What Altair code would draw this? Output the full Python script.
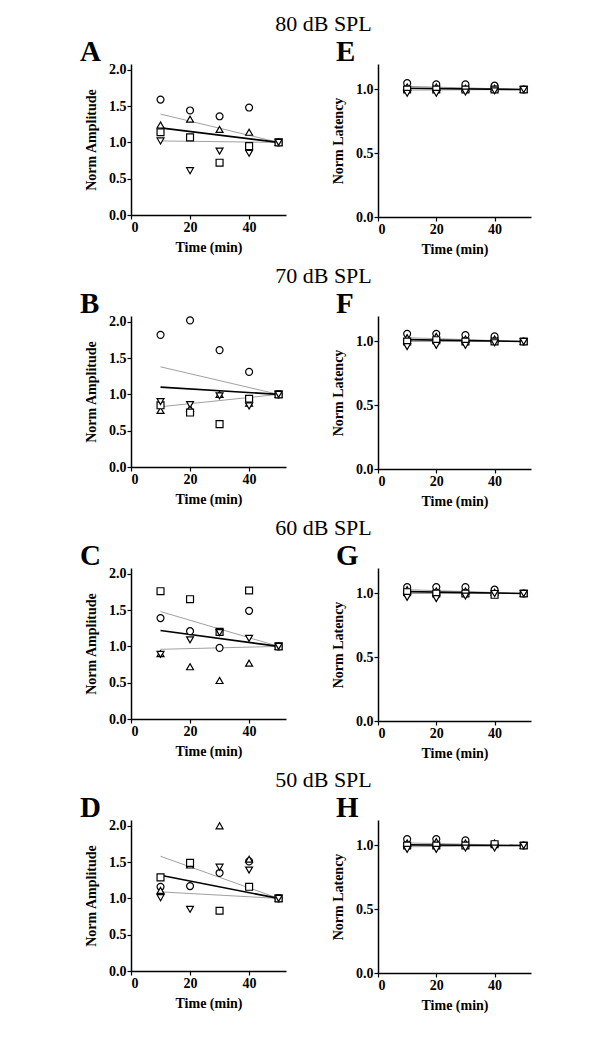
import altair as alt
import pandas as pd

TIMES = [10, 20, 30, 40, 50]
SHAPES = ["circle", "triangle-up", "square", "triangle-down"]
FIT_T = [10, 50]

ROW_TITLES = ["80 dB SPL", "70 dB SPL", "60 dB SPL", "50 dB SPL"]
AMP_LETTERS = ["A", "B", "C", "D"]
LAT_LETTERS = ["E", "F", "G", "H"]

# Normalized amplitude (left column), one list per symbol
AMP_80 = {"circle": [1.59, 1.44, 1.36, 1.48, 1.0],
          "triangle-up": [1.24, 1.32, 1.18, 1.14, 1.0],
          "square": [1.14, 1.07, 0.72, 0.95, 1.0],
          "triangle-down": [1.02, 0.61, 0.88, 0.85, 1.0]}
AMP_70 = {"circle": [1.82, 2.02, 1.61, 1.31, 1.0],
          "triangle-up": [0.78, 0.81, 1.0, 0.88, 1.0],
          "square": [0.85, 0.75, 0.59, 0.94, 1.0],
          "triangle-down": [0.9, 0.86, 0.98, 0.84, 1.0]}
AMP_60 = {"circle": [1.39, 1.21, 0.98, 1.49, 1.0],
          "triangle-up": [0.9, 0.72, 0.53, 0.77, 1.0],
          "square": [1.76, 1.65, 1.2, 1.77, 1.0],
          "triangle-down": [0.89, 1.09, 1.19, 1.11, 1.0]}
AMP_50 = {"circle": [1.16, 1.17, 1.35, 1.51, 1.0],
          "triangle-up": [1.11, 1.46, 2.0, 1.54, 1.0],
          "square": [1.29, 1.49, 0.83, 1.16, 1.0],
          "triangle-down": [1.01, 0.85, 1.43, 1.39, 1.0]}

# Regression line and its bounds (value at 10 and 50 min)
AMP_FIT = [[1.20, 1.0], [1.10, 1.0], [1.22, 1.0], [1.32, 1.0]]
AMP_UPPER = [[1.39, 1.0], [1.38, 1.0], [1.48, 1.0], [1.58, 1.0]]
AMP_LOWER = [[1.02, 1.0], [0.83, 1.0], [0.96, 1.0], [1.09, 1.0]]

# Normalized latency (right column)
LAT_80 = {"circle": [1.05, 1.04, 1.04, 1.03, 1.0],
          "triangle-up": [1.02, 1.02, 1.01, 1.01, 1.0],
          "square": [1.0, 1.0, 1.0, 1.0, 1.0],
          "triangle-down": [0.97, 0.97, 0.98, 0.99, 1.0]}
LAT_70 = {"circle": [1.06, 1.06, 1.05, 1.04, 1.0],
          "triangle-up": [1.03, 1.04, 1.02, 1.02, 1.0],
          "square": [1.0, 1.01, 1.0, 1.0, 1.0],
          "triangle-down": [0.96, 0.97, 0.97, 0.99, 1.0]}
LAT_60 = {"circle": [1.05, 1.05, 1.05, 1.03, 1.0],
          "triangle-up": [1.03, 1.02, 1.02, 1.01, 1.0],
          "square": [1.01, 1.0, 1.0, 0.99, 1.0],
          "triangle-down": [0.97, 0.96, 0.98, 1.0, 1.0]}
LAT_50 = {"circle": [1.05, 1.05, 1.04, 1.01, 1.0],
          "triangle-up": [1.02, 1.03, 1.02, 1.02, 1.0],
          "square": [1.0, 1.0, 1.0, 1.01, 1.0],
          "triangle-down": [0.97, 0.97, 0.98, 0.98, 1.0]}

LAT_FIT = [[1.01, 1.0], [1.015, 1.0], [1.015, 1.0], [1.005, 1.0]]
LAT_UPPER = [[1.025, 1.0], [1.03, 1.0], [1.03, 1.0], [1.02, 1.0]]
LAT_LOWER = [[0.995, 1.0], [1.0, 1.0], [1.0, 1.0], [0.99, 1.0]]

AMP = [AMP_80, AMP_70, AMP_60, AMP_50]
LAT = [LAT_80, LAT_70, LAT_60, LAT_50]

SERIF = "Liberation Serif"


def panel(letter, pts, fit, upper, lower, ymax, yticks, ytitle, w, h, letter_dx):
    rows = []
    for s in SHAPES:
        for t, v in zip(TIMES, pts[s]):
            rows.append({"t": t, "v": v, "shape": s})
    df = pd.DataFrame(rows)
    lrows = []
    for name, vals in (("fit", fit), ("upper", upper), ("lower", lower)):
        for t, v in zip(FIT_T, vals):
            lrows.append({"t": t, "v": v, "line": name})
    ldf = pd.DataFrame(lrows)

    xenc = alt.X("t:Q", scale=alt.Scale(domain=[0, 52.5], nice=False),
                 axis=alt.Axis(values=[0, 20, 40], title="Time (min)"))
    yenc = alt.Y("v:Q", scale=alt.Scale(domain=[0, ymax], nice=False),
                 axis=alt.Axis(values=yticks, format=".1f", title=ytitle))

    gray = alt.Chart(ldf).transform_filter(alt.datum.line != "fit").mark_line(
        color="#a0a0a0", strokeWidth=1).encode(x=xenc, y=yenc, detail="line:N")
    black = alt.Chart(ldf).transform_filter(alt.datum.line == "fit").mark_line(
        color="black", strokeWidth=1.6).encode(x=xenc, y=yenc)
    points = alt.Chart(df).mark_point(filled=True, fill="white", stroke="black",
                                      strokeWidth=1.2, size=48, opacity=1).encode(
        x=xenc, y=yenc,
        shape=alt.Shape("shape:N", scale=alt.Scale(domain=SHAPES, range=SHAPES), legend=None))
    label = alt.Chart(pd.DataFrame({"l": [letter]})).mark_text(
        font=SERIF, fontSize=29, fontWeight="bold", align="left", baseline="alphabetic",
        color="black").encode(text="l:N", x=alt.value(letter_dx), y=alt.value(-3))
    return alt.layer(gray, black, points, label).properties(width=w, height=h)


rows = []
for i in range(4):
    left = panel(AMP_LETTERS[i], AMP[i], AMP_FIT[i], AMP_UPPER[i], AMP_LOWER[i],
                 2.08, [0, 0.5, 1.0, 1.5, 2.0], "Norm Amplitude", 155, 151, -51)
    right = panel(LAT_LETTERS[i], LAT[i], LAT_FIT[i], LAT_UPPER[i], LAT_LOWER[i],
                  1.2, [0, 0.5, 1.0], "Norm Latency", 153, 153, -42)
    row = alt.hconcat(left, right, spacing=45).properties(
        title=alt.TitleParams(ROW_TITLES[i], font=SERIF, fontSize=22, fontWeight="normal",
                              anchor="middle", offset=2, dx=18, color="black"))
    rows.append(row)

chart = alt.vconcat(*rows, spacing=9).properties(
    padding={"left": 72, "top": 5, "right": 5, "bottom": 5}
).configure_view(stroke=None).configure_axis(
    domainColor="black", domainWidth=1.5, tickColor="black", tickWidth=1.2, tickSize=4,
    grid=False, labelFont=SERIF, labelFontSize=14, labelFontWeight="bold", labelColor="black",
    labelPadding=1, titleFont=SERIF, titleFontSize=14, titleFontWeight="bold",
    titleColor="black", titlePadding=6
).configure_axisY(titlePadding=10)

chart.save("out.html", embed_options={"renderer": "svg", "actions": False})
